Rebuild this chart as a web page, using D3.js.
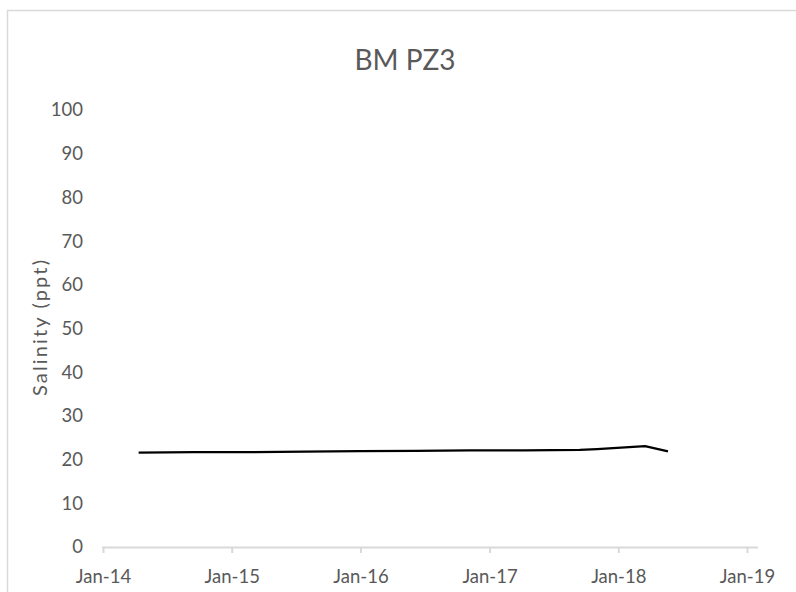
<!DOCTYPE html>
<html>
<head>
<meta charset="utf-8">
<script src="https://cdn.jsdelivr.net/npm/d3@7"></script>
<style>
  html, body { margin: 0; padding: 0; background: #fff; }
  svg { display: block; }
</style>
</head>
<body>
<svg id="chart" width="796" height="592"></svg>
<script>
const title = "BM PZ3";
const yAxisTitle = "Salinity (ppt)";
const dates = ["2014-04-12","2014-09-18","2015-02-21","2015-07-27","2015-12-30","2016-06-03","2016-11-06","2017-04-11","2017-09-14","2017-11-02","2018-03-18","2018-05-22"];
const salinity = [21.6, 21.7, 21.7, 21.85, 21.95, 22.0, 22.1, 22.1, 22.2, 22.4, 23.1, 21.9];
const xTickLabels = ["Jan-14","Jan-15","Jan-16","Jan-17","Jan-18","Jan-19"];
const xTickDates = ["2014-01-01","2015-01-01","2016-01-01","2017-01-01","2018-01-01","2019-01-01"];
const yTicks = [0,10,20,30,40,50,60,70,80,90,100];

const parse = d3.timeParse("%Y-%m-%d");
const data = dates.map((d, i) => ({ date: parse(d), value: salinity[i] }));

const svg = d3.select("#chart");
const font = "Lato, 'Open Sans', sans-serif";
const grey = "#595959";

// chart frame
svg.append("rect")
  .attr("x", 7.5).attr("y", 10.5)
  .attr("width", 800).attr("height", 600)
  .attr("fill", "#fff").attr("stroke", "#d9d9d9").attr("stroke-width", 1.5);

const x = d3.scaleTime()
  .domain([parse("2014-01-01"), parse("2019-01-01")])
  .range([103, 747]);
const y = d3.scaleLinear().domain([0, 100]).range([547, 110]);

// title
svg.append("text")
  .attr("x", 405).attr("y", 70)
  .attr("text-anchor", "middle")
  .attr("font-family", font).attr("font-size", 28)
  .attr("fill", grey)
  .text(title);

// y axis labels (no line)
const yAxis = d3.axisLeft(y).tickValues(yTicks).tickSize(0).tickPadding(0);
const gy = svg.append("g").attr("transform", "translate(83,0)").call(yAxis);
gy.select(".domain").remove();
gy.selectAll("text")
  .attr("font-family", font).attr("font-size", 18.5).attr("fill", grey);

// x axis
const xAxis = d3.axisBottom(x)
  .tickValues(xTickDates.map(parse))
  .tickFormat((d, i) => xTickLabels[i])
  .tickSizeInner(6).tickSizeOuter(0).tickPadding(17);
const gx = svg.append("g").attr("transform", "translate(0,547)").call(xAxis);
gx.select(".domain").remove();
gx.append("line")
  .attr("x1", 102).attr("x2", 758).attr("y1", 0.5).attr("y2", 0.5)
  .attr("stroke", "#d9d9d9").attr("stroke-width", 2);
gx.selectAll(".tick line").attr("stroke", "#d9d9d9").attr("stroke-width", 2);
gx.selectAll("text")
  .attr("font-family", font).attr("font-size", 18.5).attr("fill", grey);

// y axis title
svg.append("text")
  .attr("transform", "translate(47,328) rotate(-90)")
  .attr("text-anchor", "middle")
  .attr("font-family", font).attr("font-size", 20)
  .attr("textLength", 136).attr("lengthAdjust", "spacing")
  .attr("fill", grey)
  .text(yAxisTitle);

// line
const line = d3.line().x(d => x(d.date)).y(d => y(d.value));
svg.append("path")
  .datum(data)
  .attr("fill", "none")
  .attr("stroke", "#000")
  .attr("stroke-width", 2.25)
  .attr("stroke-linejoin", "round")
  .attr("d", line);
</script>
</body>
</html>
